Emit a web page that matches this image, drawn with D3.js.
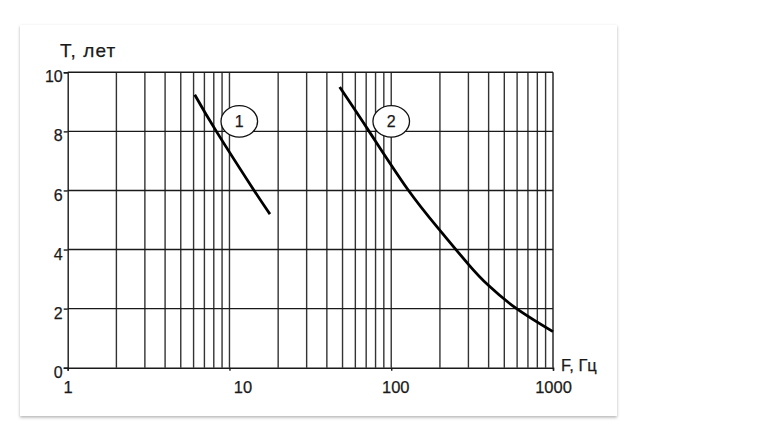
<!DOCTYPE html>
<html><head><meta charset="utf-8">
<script src="https://cdn.jsdelivr.net/npm/d3@7"></script>
<style>
html,body{margin:0;padding:0;background:#fff;}
svg{display:block;font-family:"Liberation Sans",Arial,sans-serif;}
</style></head>
<body>
<svg id="chart" width="780" height="439"></svg>
<script>
// Data
const xTickValues = [1, 10, 100, 1000];
const xTickLabels = ["1", "10", "100", "1000"];
const yTickValues = [0, 2, 4, 6, 8, 10];
const yTickLabels = ["0", "2", "4", "6", "8", "10"];
const curve1F = [6.1, 8.3, 14.2, 17.8];
const curve1T = [9.24, 8.0, 6.0, 5.2];
const curve2F = [48, 73, 126, 200, 300, 400, 596, 1000];
const curve2T = [9.5, 8.0, 6.05, 4.65, 3.5, 2.78, 2.0, 1.22];
const curveLabels = ["1", "2"];
const labelF = [11.5, 100];
const labelT = [8.34, 8.34];
const xTitle = "F, Гц";
const yTitle = "T, лет";

const svg = d3.select("#chart");
const defs = svg.append("defs");
const f = defs.append("filter").attr("id","sh").attr("x","-5%").attr("y","-5%").attr("width","110%").attr("height","115%");
f.append("feDropShadow").attr("dx",0).attr("dy",1.5).attr("stdDeviation",1.6).attr("flood-color","#000").attr("flood-opacity",0.3);

svg.append("rect").attr("x",20).attr("y",25).attr("width",597).attr("height",391)
  .attr("fill","#fff").attr("filter","url(#sh)");

const x = d3.scaleLog().domain([1,1000]).range([67.7,553]);
const y = d3.scaleLinear().domain([0,10]).range([367.7,72.3]);

const txt = sel => sel.attr("fill","#1a1a1a").attr("stroke","#1a1a1a").attr("stroke-width",0.25)
  .attr("font-family","\"Liberation Sans\",Arial,sans-serif");

const g = svg.append("g");
// vertical grid at every minor log tick
const minor = x.ticks(30).filter(v => v > 1 && v < 1000);
g.selectAll("line.vg").data(minor).enter().append("line")
  .attr("x1", d => x(d)).attr("x2", d => x(d))
  .attr("y1", y(0)).attr("y2", y(10))
  .attr("stroke","#333").attr("stroke-width",1.4);
// horizontal grid
g.selectAll("line.hg").data(yTickValues.filter(v => v > 0)).enter().append("line")
  .attr("x1", x(1)).attr("x2", x(1000))
  .attr("y1", d => y(d)).attr("y2", d => y(d))
  .attr("stroke","#1a1a1a").attr("stroke-width",1.4);

// axes
const xAxis = d3.axisBottom(x).tickValues(xTickValues)
  .tickFormat((d,i) => xTickLabels[i]).tickSize(3).tickPadding(11);
const gx = svg.append("g").attr("transform",`translate(0,${y(0)})`).call(xAxis);
gx.select(".domain").attr("stroke","#1a1a1a").attr("stroke-width",1.4);
gx.selectAll(".tick line").attr("stroke","#1a1a1a").attr("stroke-width",1.4);
gx.selectAll(".tick text").attr("font-size",16.5).call(txt)
  .attr("dx", d => d === 10 ? 13 : (d === 100 ? 4 : 0));

const yAxis = d3.axisLeft(y).tickValues(yTickValues)
  .tickFormat((d,i) => yTickLabels[i]).tickSize(4).tickPadding(1);
const gy = svg.append("g").attr("transform",`translate(${x(1)},0)`).call(yAxis);
gy.select(".domain").attr("stroke","#1a1a1a").attr("stroke-width",1.4);
gy.selectAll(".tick line").attr("stroke","#1a1a1a").attr("stroke-width",1.4);
gy.selectAll(".tick text").attr("font-size",16).call(txt).attr("dy","0.6em");

// right border
svg.append("line").attr("x1",x(1000)).attr("x2",x(1000)).attr("y1",y(0)).attr("y2",y(10))
  .attr("stroke","#1a1a1a").attr("stroke-width",1.4);

// curves
const line = d3.line().x(d => x(d[0])).y(d => y(d[1])).curve(d3.curveNatural);
const c1 = curve1F.map((v,i) => [v, curve1T[i]]);
const c2 = curve2F.map((v,i) => [v, curve2T[i]]);
[c1, c2].forEach(c => {
  svg.append("path").datum(c).attr("d", line)
    .attr("fill","none").attr("stroke","#000").attr("stroke-width",2.8);
});

// curve labels in ellipses
curveLabels.forEach((t,i) => {
  const cx = x(labelF[i]), cy = y(labelT[i]);
  svg.append("ellipse").attr("cx",cx).attr("cy",cy).attr("rx",18.3).attr("ry",15.7)
    .attr("fill","#fff").attr("stroke","#111").attr("stroke-width",1.3);
  svg.append("text").attr("x",cx).attr("y",cy).attr("dy","0.36em")
    .attr("text-anchor","middle").attr("font-size",16).call(txt).text(t);
});

// titles
svg.append("text").attr("x",60).attr("y",57).attr("font-size",19).attr("letter-spacing",1.1).call(txt).text(yTitle);
svg.append("text").attr("x",561).attr("y",371).attr("font-size",16.5).call(txt).text(xTitle);
</script>
</body></html>
